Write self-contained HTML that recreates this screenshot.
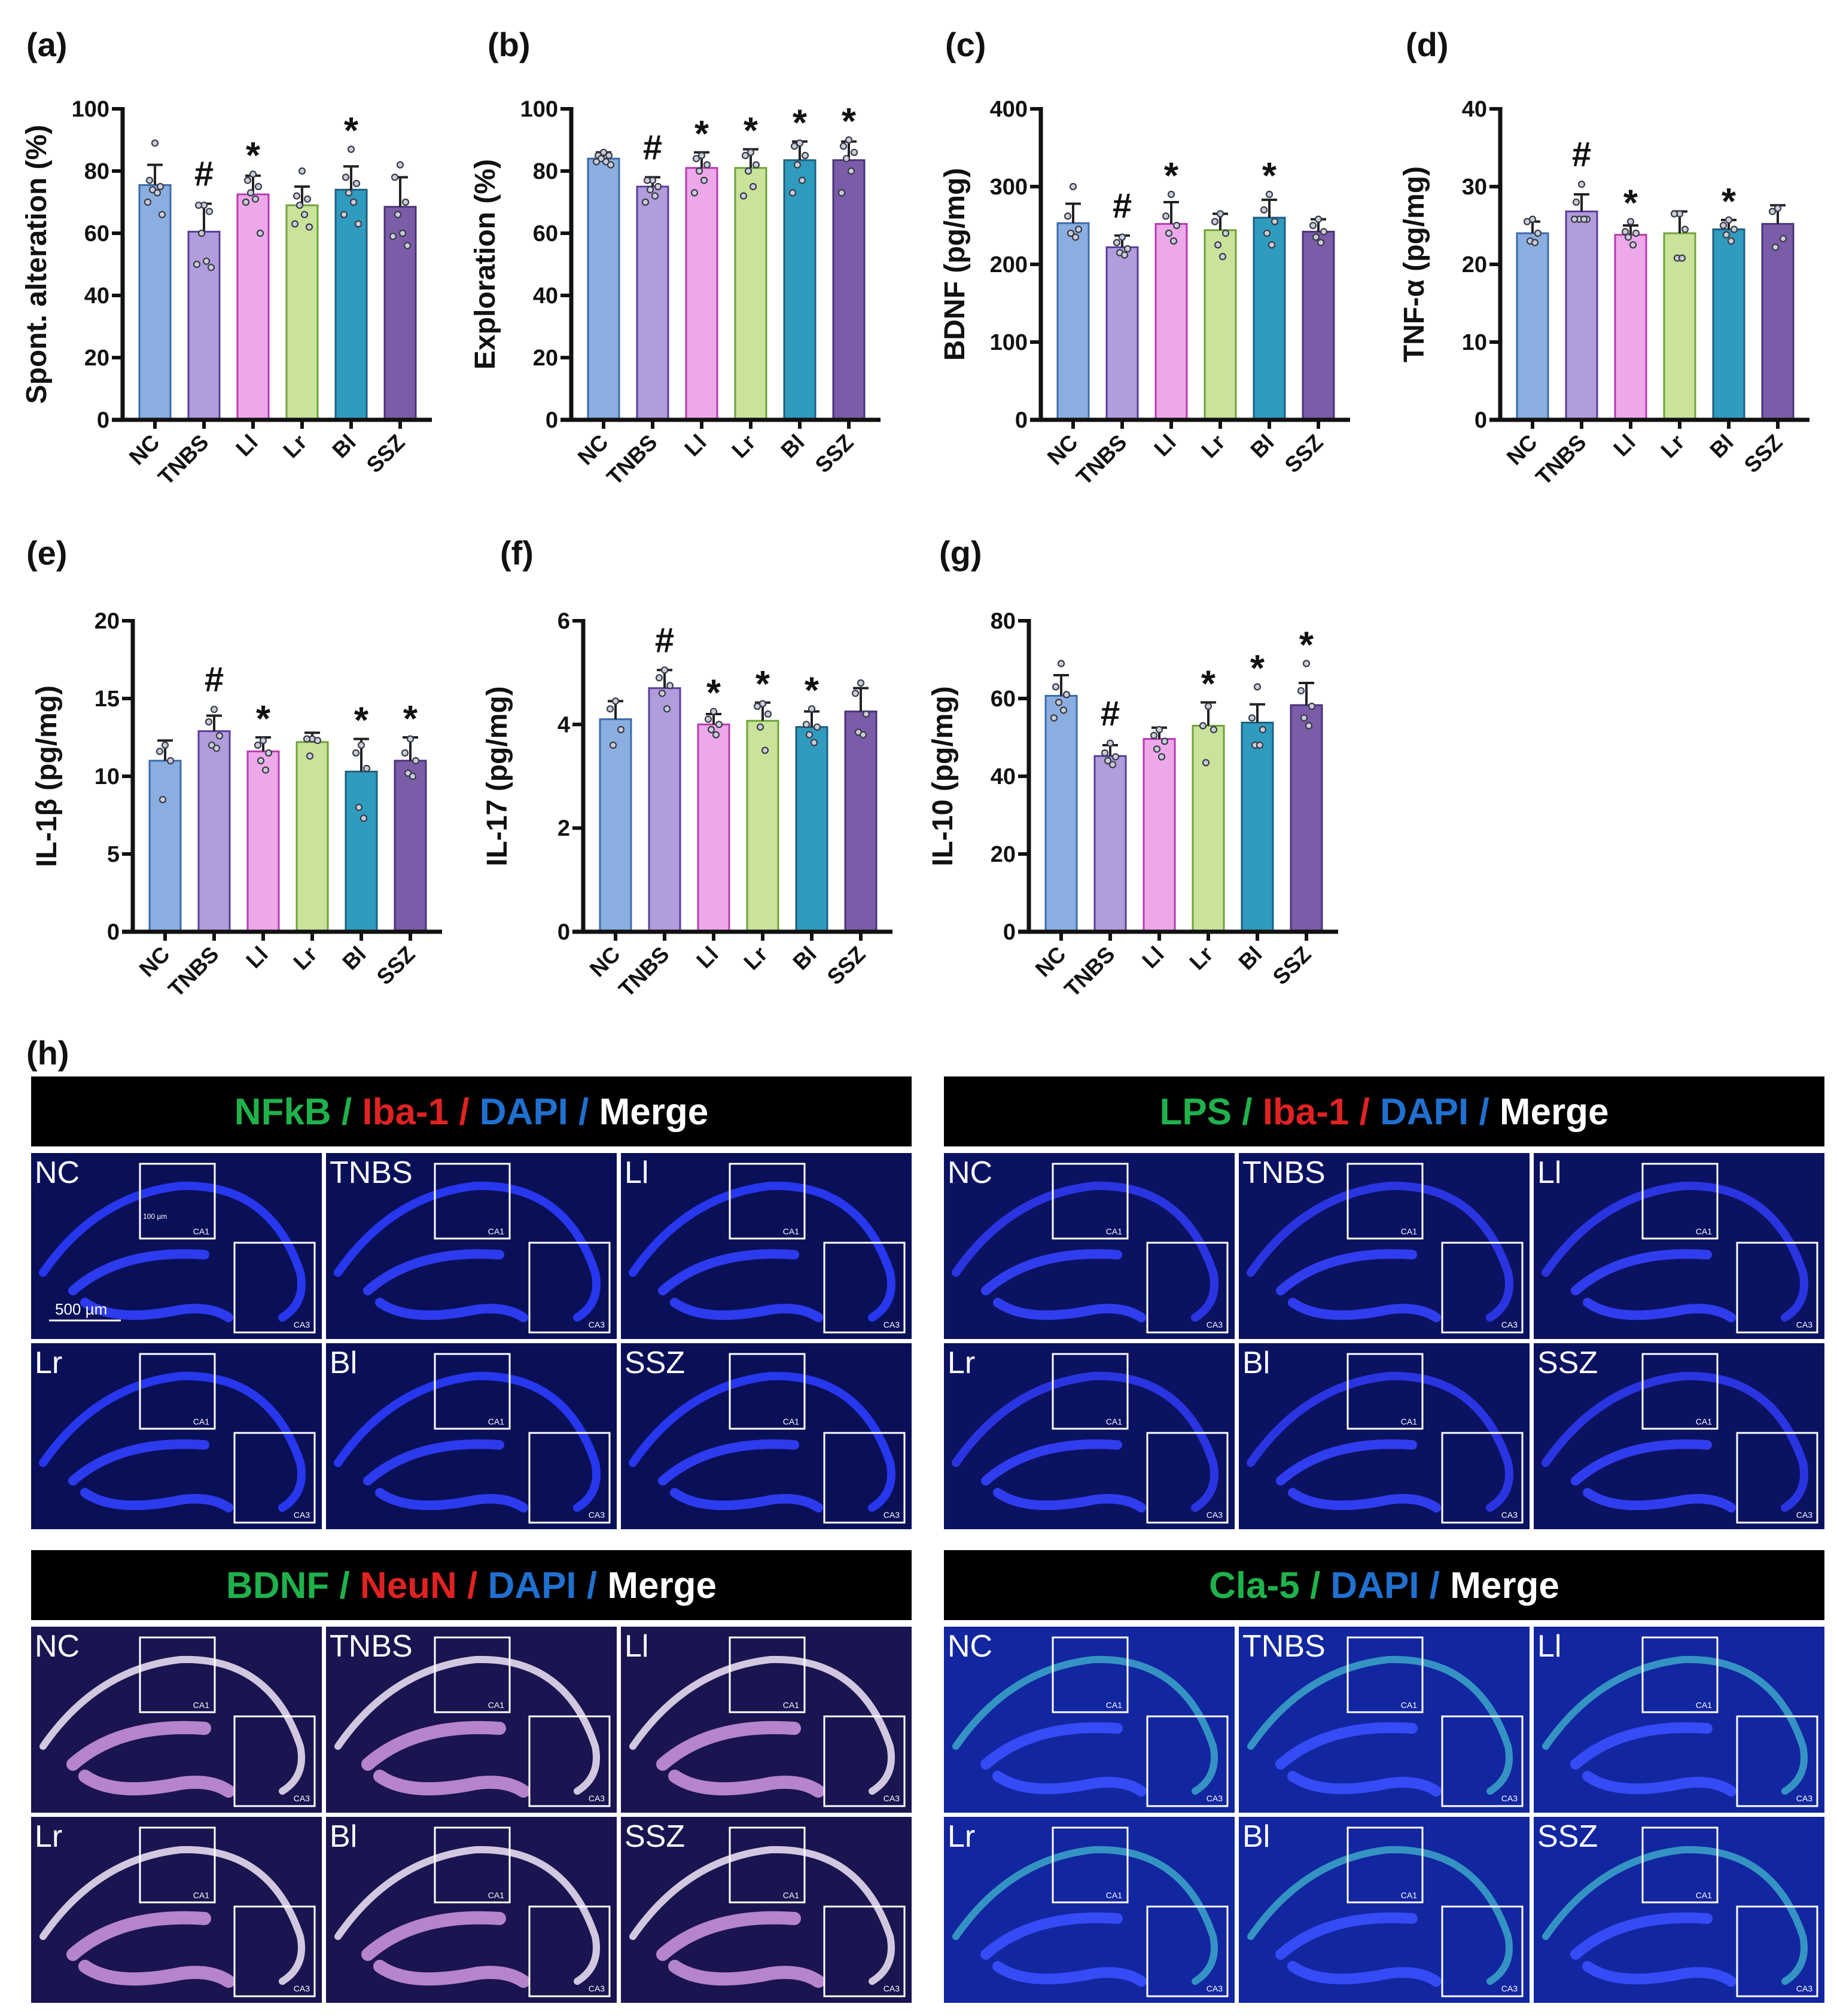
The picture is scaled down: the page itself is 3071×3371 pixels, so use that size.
<!DOCTYPE html>
<html><head><meta charset="utf-8"><style>
html,body{margin:0;padding:0;background:#fff;}
svg{display:block;}
text{font-family:"Liberation Sans",Arial,sans-serif;}
</style></head><body>
<svg id="fig" xmlns="http://www.w3.org/2000/svg" width="3071" height="3371" viewBox="0 0 3071 3371">
<rect x="0" y="0" width="3071" height="3371" fill="#fff"/>
</svg>
<script>
const NS='http://www.w3.org/2000/svg';
const svg=document.getElementById('fig');
const groups=['NC','TNBS','Ll','Lr','Bl','SSZ'];
const barFill=['#8aaee0','#b19cdc','#eda8ea','#c9e39a','#2f9bbf','#7a5ca8'];
const barStroke=['#3e6aa8','#5a3e9a','#b83ab0','#6ea33a','#1f5f7f','#4a3478'];

// (a) Spont. alteration
const aMeans=[75.5,60.5,72.5,69,74,68.5];
const aSD=[82,69.5,78.5,75,81.5,78];
const aPoints=[[89,77,75,74,73,70,66],[69,69,67,60,51,50,49],[79,77,75,73,71,70,60],[80,72,71,69,66,63,62],[87,78,76,73,70,66,63],[82,78,70,66,60,59,56]];
const aMarks=['','#','*','','*',''];
const aTicks=[0,20,40,60,80,100];
// (b) Exploration
const bMeans=[84,75,81,81,83.5,83.5];
const bSD=[86,78,86,87,89.5,89.5];
const bPoints=[[86,85,85,84,83,83,82],[77,77,75,74,72,70],[85,84,82,80,77,73],[86,85,82,80,75,72],[89,88,85,82,77,73],[90,88,86,84,80,73]];
const bMarks=['','#','*','*','*','*'];
const bTicks=[0,20,40,60,80,100];
// (c) BDNF
const cMeans=[253,222,252,244,260,242];
const cSD=[278,237,280,265,283,258];
const cPoints=[[300,262,245,240,235],[235,228,220,215,212],[290,262,250,240,230],[265,255,240,225,210],[290,270,255,240,225],[258,250,242,235,228]];
const cMarks=['','#','*','','*',''];
const cTicks=[0,100,200,300,400];
// (d) TNF-a
const dMeans=[24,26.8,23.8,24,24.5,25.2];
const dSD=[25.5,29,25,26.8,25.7,27.6];
const dPoints=[[25.8,25.5,24,23,22.8],[30.3,28,25.8,25.8,25.8,25.8],[25.5,24.2,24,23.5,22.5],[26.5,26.5,24.5,20.8,20.8],[25.7,25,24.5,23.8,23],[27.2,26.8,23.3,22.2]];
const dMarks=['','#','*','','*',''];
const dTicks=[0,10,20,30,40];
// (e) IL-1b
const eMeans=[11,12.9,11.6,12.2,10.3,11];
const eSD=[12.3,13.9,12.5,12.8,12.4,12.5];
const ePoints=[[12,11.6,11,8.5],[14.3,13.5,12.6,12,11.8],[12.3,12,11.5,11,10.4],[12.4,12.4,12.3,11.3],[12,11.5,10.5,8,7.3],[12.4,11.5,11,10.2,10]];
const eMarks=['','#','*','','*','*'];
const eTicks=[0,5,10,15,20];
// (f) IL-17
const fMeans=[4.1,4.7,4.0,4.07,3.95,4.25];
const fSD=[4.45,5.05,4.2,4.42,4.25,4.7];
const fPoints=[[4.45,4.3,3.9,3.6],[5.05,4.9,4.75,4.6,4.3],[4.25,4.1,4.0,3.9,3.8],[4.4,4.35,4.2,3.95,3.5],[4.3,4.0,3.95,3.8,3.65],[4.8,4.6,4.2,3.85,3.8]];
const fMarks=['','#','*','*','*',''];
const fTicks=[0,2,4,6];
// (g) IL-10
const gMeans=[60.7,45.2,49.6,53,53.8,58.3];
const gSD=[66,48,52.5,59,58.5,64];
const gPoints=[[69,63,61,59,57,55],[48.5,46,45,44,43],[52,50.5,49,47,45],[58,53,52,43.5],[63,55,52,48,48],[69,62,58,55,53]];
const gMarks=['','#','','*','*','*'];
const gTicks=[0,20,40,60,80];

function mk(tag,attrs,parent){const e=document.createElementNS(NS,tag);for(const k in attrs)e.setAttribute(k,attrs[k]);(parent||svg).appendChild(e);return e;}

const panels=[
 {id:'a',ax:205,top:182,y0:702,lx:44,ly:94,title:'Spont. alteration (%)',means:aMeans,sd:aSD,pts:aPoints,marks:aMarks,ticks:aTicks},
 {id:'b',ax:955,top:182,y0:702,lx:815,ly:94,title:'Exploration (%)',means:bMeans,sd:bSD,pts:bPoints,marks:bMarks,ticks:bTicks},
 {id:'c',ax:1740,top:182,y0:702,lx:1580,ly:94,title:'BDNF (pg/mg)',means:cMeans,sd:cSD,pts:cPoints,marks:cMarks,ticks:cTicks},
 {id:'d',ax:2508,top:182,y0:702,lx:2350,ly:94,title:'TNF-α (pg/mg)',means:dMeans,sd:dSD,pts:dPoints,marks:dMarks,ticks:dTicks},
 {id:'e',ax:222,top:1038,y0:1558,lx:44,ly:944,title:'IL-1β (pg/mg)',means:eMeans,sd:eSD,pts:ePoints,marks:eMarks,ticks:eTicks},
 {id:'f',ax:975,top:1038,y0:1558,lx:836,ly:944,title:'IL-17 (pg/mg)',means:fMeans,sd:fSD,pts:fPoints,marks:fMarks,ticks:fTicks},
 {id:'g',ax:1720,top:1038,y0:1558,lx:1570,ly:944,title:'IL-10 (pg/mg)',means:gMeans,sd:gSD,pts:gPoints,marks:gMarks,ticks:gTicks}
];
const jit=[0,-9,9,-4,4,-12,12];

panels.forEach(p=>{
 const g=mk('g',{});
 
 
 const ymax=p.ticks[p.ticks.length-1];
 const ys=v=>p.y0-(v/ymax)*(p.y0-p.top);
 const xs=i=>p.ax+54+i*82;
 const lab=mk('text',{x:p.lx,y:p.ly,'font-size':56,'font-weight':'bold',fill:'#111'},g);lab.textContent='('+p.id+')';
 
 
 const cy=(p.top+p.y0)/2, tx=p.ax-128;
 const t=mk('text',{x:tx,y:cy,'font-size':48,'font-weight':'bold','text-anchor':'middle',transform:`rotate(-90 ${tx} ${cy})`,fill:'#111'},g);t.textContent=p.title;
 
 
 p.means.forEach((m,i)=>{
  const cx=xs(i);
  const r=mk('rect',{x:cx-26,y:ys(m),width:52,height:p.y0-ys(m),fill:barFill[i],stroke:barStroke[i],'stroke-width':3},g);
  
  
  const eb=mk('path',{d:`M${cx},${ys(m)}V${ys(p.sd[i])}M${cx-13},${ys(p.sd[i])}H${cx+13}`,stroke:'#222','stroke-width':4,fill:'none'},g);
  
  
  p.pts[i].forEach((v,k)=>{
   const c=mk('circle',{cx:cx+jit[k%jit.length],cy:ys(v),r:5,fill:'#c9cfd8',stroke:'#3a3a48','stroke-width':2.2},g);
   
   
  });
  if(p.marks[i]){
   const top=Math.max(p.sd[i],...p.pts[i]);
   const off=p.marks[i]=='#'?30:10;
   const mt=mk('text',{x:cx,y:ys(top)-off,'font-size':p.marks[i]=='#'?58:62,'font-weight':'bold','text-anchor':'middle',fill:'#111'},g);
   mt.textContent=p.marks[i];
   
   
  }
  const xt=mk('line',{x1:cx,y1:p.y0,x2:cx,y2:p.y0+15,stroke:'#111','stroke-width':6},g);
  
  
  const xl=mk('text',{x:cx+10,y:p.y0+40,'font-size':37,'font-weight':'bold','text-anchor':'end',transform:`rotate(-45 ${cx+10} ${p.y0+40})`,fill:'#111'},g);
  xl.textContent=groups[i];
  
  
 });
 p.ticks.forEach(tv=>{
  const tl=mk('line',{x1:p.ax-18,y1:ys(tv),x2:p.ax,y2:ys(tv),stroke:'#111','stroke-width':6},g);
  
  
  const tt=mk('text',{x:p.ax-22,y:ys(tv)+13,'font-size':38,'font-weight':'bold','text-anchor':'end',fill:'#111'},g);
  tt.textContent=tv;
  
  
 });
 const ax=mk('path',{d:`M${p.ax},${p.top-3}V${p.y0}M${p.ax-18},${p.y0}H${p.ax+517}`,stroke:'#111','stroke-width':7,fill:'none'},g);
 
 
});

// (h) microscopy
const hl=mk('text',{x:44,y:1780,'font-size':56,'font-weight':'bold',fill:'#111'});
hl.textContent='(h)';


const G='#1fb24c',R='#e02222',B='#2070d0',W='#ffffff';
const blocks=[
 {x:52,hy:1800,iy:1928,bg:'#0a1058',ca:'#2a3cff',dg:'#3040ff',caw:14,dgw:16,parts:[['NFkB /',G],['Iba-1 /',R],['DAPI /',B],['Merge',W]],name:'nfkb-iba1'},
 {x:1578,hy:1800,iy:1928,bg:'#0b1262',ca:'#2d3af0',dg:'#3442ff',caw:14,dgw:16,parts:[['LPS /',G],['Iba-1 /',R],['DAPI /',B],['Merge',W]],name:'lps-iba1'},
 {x:52,hy:2592,iy:2720,bg:'#1a1450',ca:'#e6dcf0',dg:'#c890d8',caw:12,dgw:22,parts:[['BDNF /',G],['NeuN /',R],['DAPI /',B],['Merge',W]],name:'bdnf-neun'},
 {x:1578,hy:2592,iy:2720,bg:'#1226a0',ca:'#3aa0c8',dg:'#3a50ff',caw:12,dgw:18,parts:[['Cla-5 /',G],['DAPI /',B],['Merge',W]],name:'cla5'}
];
blocks.forEach(b=>{
 const g=mk('g',{});
 
 
 const hdr=mk('rect',{x:b.x,y:b.hy,width:1472,height:117,fill:'#000'},g);
 
 
 const ht=mk('text',{x:b.x+736,y:b.hy+80,'font-size':62,'font-weight':'bold','text-anchor':'middle'},g);
 
 
 b.parts.forEach((pp,k)=>{const ts=mk('tspan',{fill:pp[1]},ht);ts.textContent=(k?'  ':'')+pp[0];});
 const tw=486,th=311;
 groups.forEach((gn,i)=>{
  const col=i%3,row=Math.floor(i/3);
  const x=b.x+col*(tw+7), y=b.iy+row*(th+7);
  const tg=mk('g',{transform:`translate(${x},${y})`},g);
  
  
  mk('rect',{x:0,y:0,width:tw,height:th,fill:b.bg},tg);
  mk('path',{d:'M20,200 Q110,70 250,55 Q400,50 450,200 Q460,250 420,275',stroke:b.ca,'stroke-width':b.caw,fill:'none','stroke-linecap':'round',opacity:0.9},tg);
  mk('path',{d:'M70,230 Q150,160 290,170 M90,250 Q140,285 250,262 Q300,255 330,275',stroke:b.dg,'stroke-width':b.dgw,fill:'none','stroke-linecap':'round',opacity:0.9},tg);
  mk('rect',{x:182,y:18,width:125,height:125,fill:'none',stroke:'#fff','stroke-width':3},tg);
  const c1=mk('text',{x:298,y:136,'font-size':14,fill:'#fff','text-anchor':'end'},tg);c1.textContent='CA1';
  mk('rect',{x:340,y:150,width:134,height:150,fill:'none',stroke:'#fff','stroke-width':3},tg);
  const c3=mk('text',{x:466,y:292,'font-size':14,fill:'#fff','text-anchor':'end'},tg);c3.textContent='CA3';
  const lt=mk('text',{x:6,y:50,'font-size':52,fill:'#fff'},tg);lt.textContent=gn;
  
  
  if(b.name=='nfkb-iba1'&&i==0){
   const s1=mk('text',{x:40,y:270,'font-size':26,fill:'#fff'},tg);s1.textContent='500 µm';
   mk('line',{x1:30,y1:280,x2:150,y2:280,stroke:'#fff','stroke-width':3},tg);
   const s2=mk('text',{x:187,y:110,'font-size':12,fill:'#fff'},tg);s2.textContent='100 µm';
  }
 });
});
</script>
</body></html>
